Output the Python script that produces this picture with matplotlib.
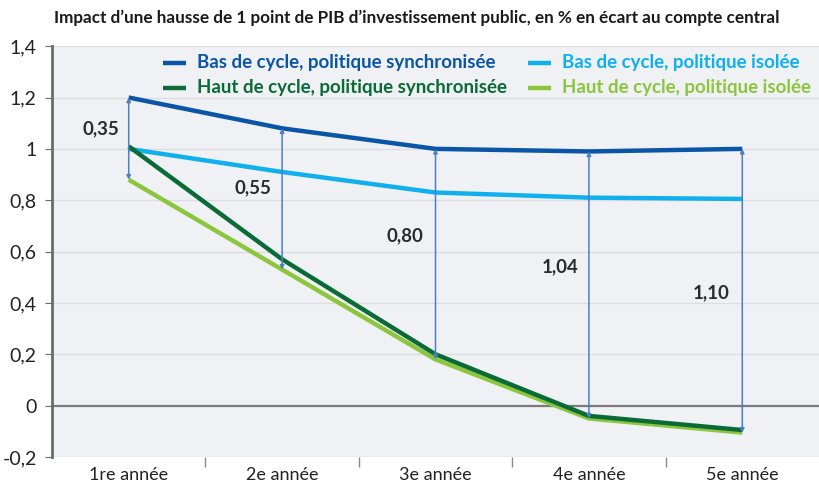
import matplotlib.pyplot as plt
from matplotlib.ticker import FixedLocator

# data
categories = ["1re année", "2e année", "3e année", "4e année", "5e année"]
bas_sync = [1.20, 1.08, 1.00, 0.99, 1.00]
bas_isolee = [1.00, 0.91, 0.83, 0.81, 0.805]
haut_sync = [1.01, 0.57, 0.20, -0.04, -0.095]
haut_isolee = [0.88, 0.53, 0.18, -0.05, -0.105]
gap_labels = ["0,35", "0,55", "0,80", "1,04", "1,10"]

# label placement (data units): x offset from category, y position
gap_dx = [-0.18, -0.19, -0.2, -0.19, -0.2]
gap_y = [1.08, 0.85, 0.66, 0.54, 0.44]

plt.rcParams["font.family"] = ["Lato", "DejaVu Sans"]

fig = plt.figure(figsize=(8.19, 4.86), dpi=100)
ax = fig.add_axes([0.0635, 0.0597, 0.9365, 0.8453])
ax.set_facecolor("#f0f1f4")

x = list(range(len(categories)))

# grid
for v in [-0.2, 0.2, 0.4, 0.6, 0.8, 1.0, 1.2, 1.4]:
    ax.axhline(v, color="#dcdde1", lw=1.0, zorder=1)
ax.axhline(0, color="#7a7a7a", lw=1.6, zorder=2)

series = [
    (bas_sync, "#0b55a6", "Bas de cycle, politique synchronisée"),
    (bas_isolee, "#10b0ee", "Bas de cycle, politique isolée"),
    (haut_sync, "#0a6b36", "Haut de cycle, politique synchronisée"),
    (haut_isolee, "#8cc63f", "Haut de cycle, politique isolée"),
]
# light green first so dark green sits on top
for vals, col, lab in [series[3], series[1], series[2], series[0]]:
    ax.plot(x, vals, color=col, lw=3.2, solid_capstyle="butt", zorder=3)

# double arrows showing the gap
for i in x:
    top = max(bas_sync[i], bas_isolee[i], haut_sync[i], haut_isolee[i])
    bot = min(bas_sync[i], bas_isolee[i], haut_sync[i], haut_isolee[i])
    ax.annotate("", xy=(i, bot), xytext=(i, top),
                arrowprops=dict(arrowstyle="<|-|>", color="#4a7fc3", lw=1.1,
                                mutation_scale=6, shrinkA=0, shrinkB=0),
                zorder=4)
    ax.text(i + gap_dx[i], gap_y[i], gap_labels[i], ha="center", va="center",
            fontsize=13.5, fontweight="bold", color="#2b2b2b", zorder=5)

ax.set_xlim(-0.5, 4.5)
ax.set_ylim(-0.2, 1.4)

ax.set_yticks([-0.2, 0, 0.2, 0.4, 0.6, 0.8, 1.0, 1.2, 1.4])
ax.set_yticklabels(["-0,2", "0", "0,2", "0,4", "0,6", "0,8", "1", "1,2", "1,4"])
ax.tick_params(axis="y", labelsize=14, length=5, color="#6b6b6b",
               pad=6, labelcolor="#222222")

ax.set_xticks(x)
ax.set_xticklabels(categories)
ax.tick_params(axis="x", which="major", length=0, labelsize=13,
               pad=7, labelcolor="#222222")
ax.xaxis.set_minor_locator(FixedLocator([0.5, 1.5, 2.5, 3.5]))
ax.tick_params(axis="x", which="minor", length=7, color="#8a8a8a", width=1)

for s in ["top", "right", "bottom"]:
    ax.spines[s].set_visible(False)
ax.spines["left"].set_color("#6b6b6b")
ax.spines["left"].set_linewidth(2)

# legend: short handle + coloured bold text, two columns
legend_pos = [(0.189, 1.336), (0.665, 1.336), (0.189, 1.239), (0.665, 1.239)]
tr = ax.get_yaxis_transform()
for (vals, col, lab), (lx, ly) in zip(series, legend_pos):
    ax.plot([lx - 0.044, lx - 0.014], [ly, ly], color=col, lw=3.2,
            transform=tr, solid_capstyle="butt")
    ax.text(lx, ly, lab, transform=tr, ha="left", va="center",
            fontsize=13.5, fontweight="bold", color=col)

fig.text(0.509, 0.963,
         "Impact d’une hausse de 1 point de PIB d’investissement public, "
         "en % en écart au compte central",
         ha="center", va="center", fontsize=12.3, fontweight="bold",
         color="#1a1a1a")

fig.savefig("out.png", dpi=100)
